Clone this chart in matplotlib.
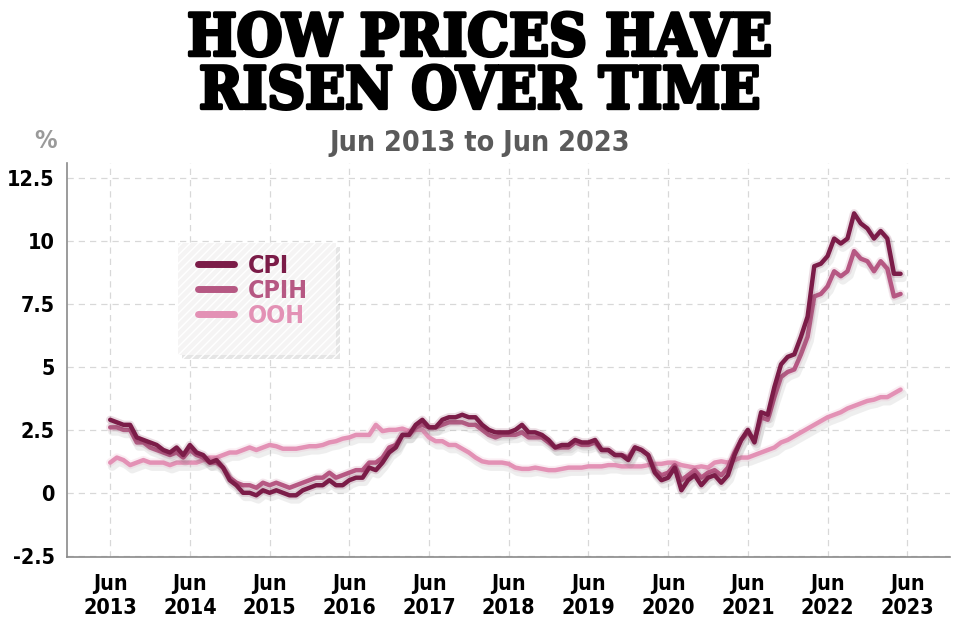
import matplotlib
matplotlib.use("Agg")
import matplotlib.pyplot as plt
import matplotlib.patheffects as pe
from matplotlib.patches import Rectangle

# annual rate %, monthly, Jun 2013 .. May 2023
cpi = [2.9, 2.8, 2.7, 2.7, 2.2, 2.1, 2.0,
       1.9, 1.7, 1.6, 1.8, 1.5, 1.9, 1.6, 1.5, 1.2, 1.3, 1.0, 0.5,
       0.3, 0.0, 0.0, -0.1, 0.1, 0.0, 0.1, 0.0, -0.1, -0.1, 0.1, 0.2,
       0.3, 0.3, 0.5, 0.3, 0.3, 0.5, 0.6, 0.6, 1.0, 0.9, 1.2, 1.6,
       1.8, 2.3, 2.3, 2.7, 2.9, 2.6, 2.6, 2.9, 3.0, 3.0, 3.1, 3.0,
       3.0, 2.7, 2.5, 2.4, 2.4, 2.4, 2.5, 2.7, 2.4, 2.4, 2.3, 2.1,
       1.8, 1.9, 1.9, 2.1, 2.0, 2.0, 2.1, 1.7, 1.7, 1.5, 1.5, 1.3,
       1.8, 1.7, 1.5, 0.8, 0.5, 0.6, 1.0, 0.1, 0.5, 0.7, 0.3, 0.6,
       0.7, 0.4, 0.7, 1.5, 2.1, 2.5, 2.0, 3.2, 3.1, 4.2, 5.1, 5.4,
       5.5, 6.2, 7.0, 9.0, 9.1, 9.4, 10.1, 9.9, 10.1, 11.1, 10.7, 10.5,
       10.1, 10.4, 10.1, 8.7, 8.7]
cpih = [2.6, 2.6, 2.5, 2.5, 2.0, 2.0, 1.8,
        1.7, 1.6, 1.5, 1.6, 1.4, 1.7, 1.5, 1.4, 1.2, 1.2, 1.0, 0.6,
        0.4, 0.3, 0.3, 0.2, 0.4, 0.3, 0.4, 0.3, 0.2, 0.3, 0.4, 0.5,
        0.6, 0.6, 0.8, 0.6, 0.7, 0.8, 0.9, 0.9, 1.2, 1.2, 1.4, 1.8,
        1.9, 2.3, 2.3, 2.6, 2.7, 2.6, 2.6, 2.7, 2.8, 2.8, 2.8, 2.7,
        2.7, 2.5, 2.3, 2.2, 2.3, 2.3, 2.3, 2.4, 2.2, 2.2, 2.2, 2.0,
        1.8, 1.8, 1.8, 2.0, 1.9, 1.9, 2.0, 1.7, 1.7, 1.5, 1.5, 1.4,
        1.8, 1.7, 1.5, 0.9, 0.7, 0.8, 1.1, 0.5, 0.7, 0.9, 0.6, 0.8,
        0.9, 0.7, 1.0, 1.6, 2.1, 2.4, 2.1, 3.0, 2.9, 3.8, 4.6, 4.8,
        4.9, 5.5, 6.2, 7.8, 7.9, 8.2, 8.8, 8.6, 8.8, 9.6, 9.3, 9.2,
        8.8, 9.2, 8.9, 7.8, 7.9]
ooh = [1.2, 1.4, 1.3, 1.1, 1.2, 1.3, 1.2,
       1.2, 1.2, 1.1, 1.2, 1.2, 1.2, 1.2, 1.3, 1.4, 1.4, 1.5, 1.6,
       1.6, 1.7, 1.8, 1.7, 1.8, 1.9, 1.85, 1.75, 1.75, 1.75, 1.8, 1.85,
       1.85, 1.9, 2.0, 2.05, 2.15, 2.2, 2.3, 2.3, 2.3, 2.7, 2.45, 2.5,
       2.5, 2.55, 2.45, 2.5, 2.5, 2.2, 2.05, 2.05, 1.9, 1.9, 1.75, 1.6,
       1.4, 1.25, 1.2, 1.2, 1.2, 1.15, 1.0, 0.95, 0.95, 1.0, 0.95, 0.9,
       0.9, 0.95, 1.0, 1.0, 1.0, 1.05, 1.05, 1.05, 1.1, 1.1, 1.05, 1.05,
       1.05, 1.05, 1.1, 1.15, 1.15, 1.2, 1.2, 1.1, 1.05, 1.0, 1.05, 1.0,
       1.2, 1.25, 1.2, 1.3, 1.4, 1.4, 1.5, 1.6, 1.7, 1.8, 2.0, 2.1,
       2.25, 2.4, 2.55, 2.7, 2.85, 3.0, 3.1, 3.2, 3.35, 3.45, 3.55, 3.65,
       3.7, 3.8, 3.8, 3.95, 4.1]

series = [('CPI', cpi), ('CPIH', cpih), ('OOH', ooh)]
colors = {'CPI': '#7b1c48', 'CPIH': '#b65883', 'OOH': '#e391b5'}
x_ticks = list(range(0, 121, 12))
x_labels = ['Jun\n%d' % y for y in range(2013, 2024)]
y_ticks = [-2.5, 0, 2.5, 5, 7.5, 10, 12.5]
y_labels = ['-2.5', '0', '2.5', '5', '7.5', '10', '12.5']

narrow = dict(family='DejaVu Sans', fontweight='bold', fontstretch='condensed')

fig = plt.figure(figsize=(9.6, 6.4), dpi=100)
ax = fig.add_axes([0.0698, 0.1297, 0.9202, 0.6156])

# title block
fig.text(0.5, 0.982, 'HOW PRICES HAVE\nRISEN OVER TIME', ha='center', va='top',
         family='DejaVu Serif', fontweight='bold', fontstretch='condensed', fontsize=42,
         linespacing=0.93, color='black',
         path_effects=[pe.withStroke(linewidth=2.5, foreground='black')])
fig.text(0.5, 0.776, 'Jun 2013 to Jun 2023', ha='center', va='center',
         fontsize=20.5, color='#5a5a5a', **narrow)
fig.text(0.047, 0.78, '%', ha='center', va='center', fontsize=18,
         color='#9a9a9a', **narrow)

months = list(range(len(cpi)))
for name, vals in reversed(series):
    c = colors[name]
    ax.plot(months, vals, color=c, lw=3.2, solid_joinstyle='round',
            solid_capstyle='round', label=name, zorder=3,
            path_effects=[pe.SimpleLineShadow(offset=(1.5, -3), shadow_color='#777777', alpha=0.12, linewidth=6),
                          pe.Stroke(linewidth=6, foreground=c, alpha=0.15),
                          pe.Normal()])

ax.set_xlim(-6.5, 126.5)
ax.set_ylim(-2.55, 13.1)
ax.set_xticks(x_ticks)
ax.set_xticklabels(x_labels, fontsize=15.5, linespacing=1.25, **narrow)
ax.set_yticks(y_ticks)
ax.set_yticklabels(y_labels, fontsize=15.5, **narrow)
ax.tick_params(length=0)
ax.tick_params(axis='y', pad=9)
ax.tick_params(axis='x', pad=12)
ax.grid(True, color='#d8d8d8', lw=0.9, ls=(0, (5, 4)))
ax.set_axisbelow(True)
for s in ['top', 'right']:
    ax.spines[s].set_visible(False)
for s in ['left', 'bottom']:
    ax.spines[s].set_color('#8a8a8a')
    ax.spines[s].set_linewidth(1.2)

# legend box
box = Rectangle((0.126, 0.513), 0.178, 0.284, transform=ax.transAxes,
                facecolor='#f5f4f4', edgecolor='white', lw=0, hatch='////', zorder=4,
                path_effects=[pe.SimplePatchShadow(offset=(3, -3), shadow_rgbFace='#999999', alpha=0.25),
                              pe.Normal()])
ax.add_patch(box)
handles, labels = ax.get_legend_handles_labels()
order = [labels.index(n) for n, _ in series]
leg = ax.legend([handles[i] for i in order], [labels[i] for i in order],
                loc='upper left', bbox_to_anchor=(0.148, 0.77), frameon=False,
                prop={'family': 'DejaVu Sans', 'weight': 'bold', 'stretch': 'condensed', 'size': 18},
                handlelength=1.45, handletextpad=0.55, labelspacing=0.05,
                borderpad=0, borderaxespad=0)
leg.set_zorder(5)
for h, t, (name, _) in zip(leg.legend_handles, leg.get_texts(), series):
    h.set_linewidth(5)
    h.set_path_effects([])
    t.set_color(colors[name])

fig.savefig('out.png', dpi=100, facecolor='white')
